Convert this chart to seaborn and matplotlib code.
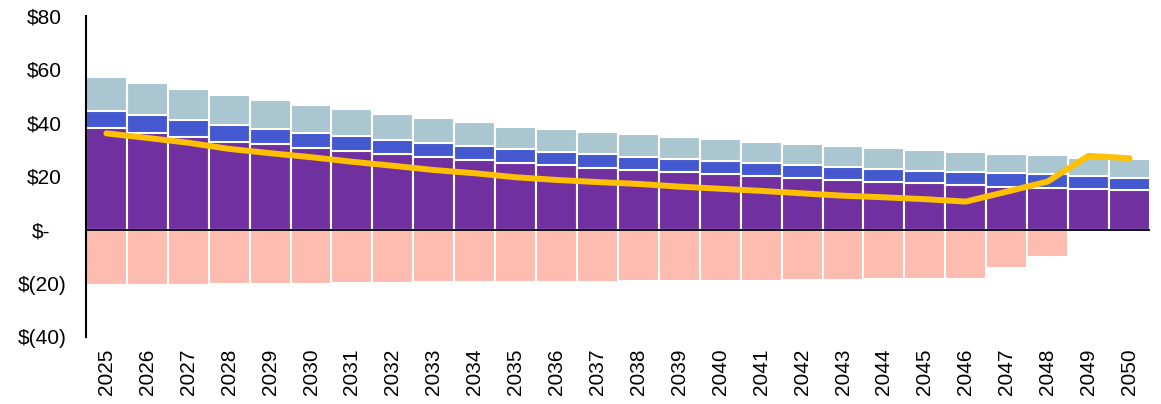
import numpy as np
import pandas as pd
import matplotlib
matplotlib.use("Agg")
import matplotlib.pyplot as plt
import seaborn as sns

years = [str(y) for y in range(2025, 2051)]
base_seg = [38.1, 36.4, 34.9, 33.0, 32.0, 30.7, 29.5, 28.3, 27.3, 26.2, 25.2, 24.3, 23.3,
            22.4, 21.8, 20.9, 20.1, 19.3, 18.6, 17.9, 17.4, 16.8, 16.2, 15.8, 15.3, 14.8]
mid_seg = [6.4, 6.5, 6.2, 6.1, 5.6, 5.4, 5.6, 5.3, 5.1, 5.2, 5.0, 5.0, 5.1,
           5.0, 4.9, 5.0, 5.1, 5.1, 5.1, 5.0, 4.8, 5.0, 5.0, 5.0, 4.9, 4.8]
top_seg = [12.7, 12.1, 11.7, 11.2, 11.0, 10.6, 10.0, 9.8, 9.5, 8.9, 8.4, 8.5, 8.3,
           8.4, 8.2, 8.1, 7.8, 7.9, 7.7, 7.8, 7.6, 7.2, 7.3, 7.1, 6.8, 6.8]
neg_seg = [-20.6, -20.5, -20.4, -20.3, -20.2, -20.1, -20.0, -19.9, -19.5, -19.4, -19.3, -19.3, -19.3,
           -19.2, -19.2, -19.2, -19.1, -18.7, -18.7, -18.4, -18.4, -18.4, -14.3, -10.0, 0.0, 0.0]
net_line = [36.1, 34.4, 32.6, 30.3, 28.7, 27.2, 25.5, 24.0, 22.4, 21.2, 19.7, 18.7, 17.9,
            17.2, 16.2, 15.4, 14.6, 13.7, 12.8, 12.2, 11.5, 10.6, 14.3, 18.1, 27.7, 26.8]
ytick_vals = [80, 60, 40, 20, 0, -20, -40]
ytick_labels = ["$80", "$60", "$40", "$20", "$-", "$(20)", "$(40)"]

sns.set_style("white")
plt.rcParams["font.family"] = ["Liberation Sans", "DejaVu Sans"]

df = pd.DataFrame({"year": years, "base": base_seg, "mid": mid_seg, "top": top_seg,
                   "neg": neg_seg, "line": net_line})
df["c_mid"] = df["base"] + df["mid"]
df["c_top"] = df["c_mid"] + df["top"]
df["pos"] = range(len(df))

fig = plt.figure(figsize=(11.61, 4.04), dpi=100)
ax = fig.add_axes([0.074, 0.166, 0.9165, 0.7945])

edge = dict(edgecolor="white", linewidth=1.5)
sns.barplot(data=df, x="year", y="c_top", color="#A9C6D1", saturation=1, width=1.0, ax=ax, **edge)
sns.barplot(data=df, x="year", y="c_mid", color="#4458CF", saturation=1, width=1.0, ax=ax, **edge)
sns.barplot(data=df, x="year", y="base", color="#7030A0", saturation=1, width=1.0, ax=ax, **edge)
sns.barplot(data=df, x="year", y="neg", color="#FDBCAF", saturation=1, width=1.0, ax=ax, **edge)
ax.axhline(0, color="black", linewidth=1.3, zorder=5)
sns.lineplot(data=df, x="pos", y="line", color="#FFC000", linewidth=4.3, ax=ax,
             solid_capstyle="round", zorder=6)

ax.set_xlim(-0.5, len(years) - 0.5)
ax.set_ylim(-40, 80)
ax.set_yticks(ytick_vals)
ax.set_yticklabels(ytick_labels)
ax.set_xticks(range(len(years)))
ax.set_xticklabels(years, rotation=90)
ax.tick_params(axis="both", length=0, labelsize=15, colors="black")
ax.tick_params(axis="x", pad=8.5)
ax.set_xlabel("")
ax.set_ylabel("")

pads = {"$80": 17.3, "$60": 17.3, "$40": 17.3, "$20": 17.3, "$-": 25.9, "$(20)": 13.7, "$(40)": 13.7}
for tick, lab in zip(ax.yaxis.get_major_ticks(), ytick_labels):
    tick.set_pad(pads[lab])

for s in ["top", "right", "bottom"]:
    ax.spines[s].set_visible(False)
ax.spines["left"].set_color("black")
ax.spines["left"].set_linewidth(1.5)
ax.grid(False)

fig.savefig("out.png", dpi=100)
